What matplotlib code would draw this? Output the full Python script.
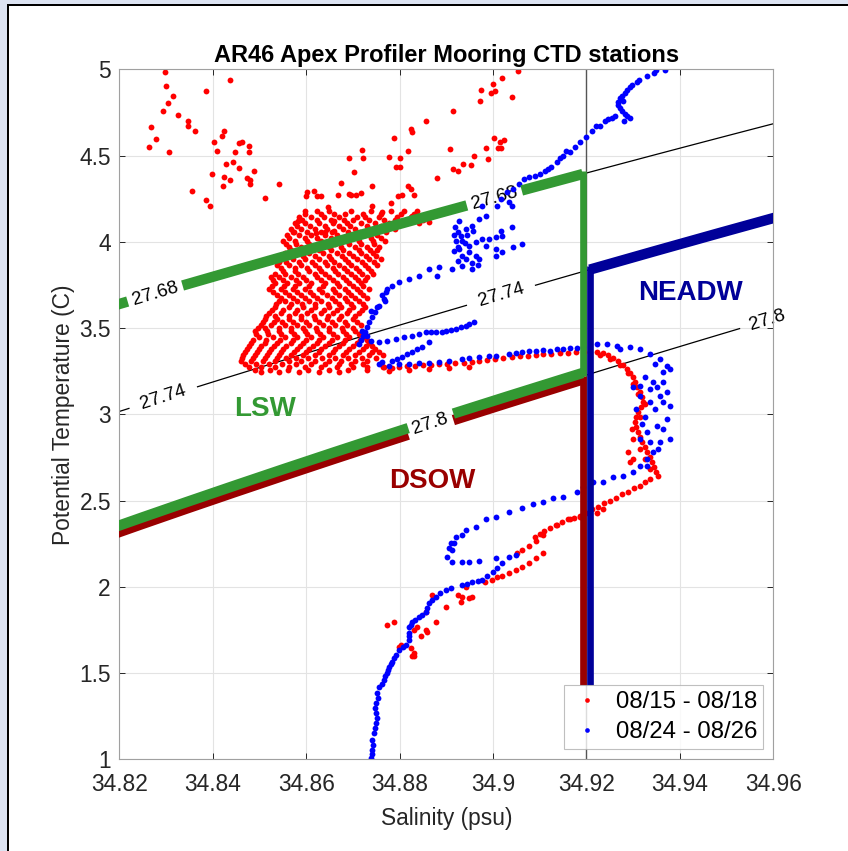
import numpy as np
import matplotlib.pyplot as plt
from matplotlib.patches import Rectangle

plt.rcParams['font.family'] = ['Liberation Sans', 'DejaVu Sans']

# ---------------- CTD profile data: (salinity psu, potential temperature C) ----------------
# casts 08/15 - 08/18
red_upper = [
    (34.8298, 4.987), (34.8301, 4.901), (34.8314, 4.843), (34.8305, 4.802), (34.8294, 4.756),
    (34.8325, 4.733), (34.8267, 4.663), (34.8279, 4.593), (34.8264, 4.552), (34.8307, 4.523),
    (34.8346, 4.698), (34.8348, 4.669), (34.8361, 4.645), (34.8385, 4.872), (34.8438, 4.936),
    (34.8355, 4.297), (34.8385, 4.244), (34.8395, 4.209), (34.8402, 4.581), (34.8410, 4.529),
    (34.8419, 4.616), (34.8425, 4.645), (34.8428, 4.448), (34.8398, 4.395), (34.8423, 4.326),
    (34.8425, 4.378), (34.8436, 4.360), (34.8443, 4.465), (34.8447, 4.523), (34.8456, 4.430),
    (34.8456, 4.570), (34.8462, 4.576), (34.8477, 4.558), (34.8477, 4.523), (34.8473, 4.372),
    (34.8479, 4.360), (34.8479, 4.337), (34.8488, 4.413), (34.8511, 4.256), (34.8541, 4.337),
    (34.8582, 4.122), (34.8574, 4.058), (34.8597, 4.180), (34.8599, 4.267), (34.8602, 4.291),
    (34.8617, 4.297), (34.8623, 4.267), (34.8632, 4.267), (34.8647, 4.203), (34.8660, 4.122),
    (34.8660, 4.064), (34.8640, 4.058), (34.8621, 4.052), (34.8668, 4.273), (34.8675, 4.343),
    (34.8692, 4.488), (34.8692, 4.279),
    (34.9054, 4.990), (34.9020, 4.948), (34.9001, 4.915), (34.9005, 4.876), (34.8996, 4.865),
    (34.8975, 4.880), (34.9041, 4.841), (34.8973, 4.814), (34.8915, 4.756), (34.8857, 4.698),
    (34.8824, 4.651), (34.8827, 4.634), (34.8788, 4.599), (34.8720, 4.531), (34.8722, 4.483),
    (34.8702, 4.403), (34.8742, 4.322), (34.8695, 4.273), (34.8706, 4.269), (34.8717, 4.281),
    (34.8778, 4.492), (34.8800, 4.488), (34.8792, 4.434), (34.8801, 4.434), (34.8818, 4.525),
    (34.8818, 4.324), (34.8824, 4.304), (34.8831, 4.273), (34.8806, 4.269), (34.8796, 4.266),
    (34.8781, 4.227), (34.8880, 4.372), (34.8907, 4.539), (34.8959, 4.498), (34.8935, 4.452),
    (34.8953, 4.444), (34.8914, 4.424), (34.8924, 4.409), (34.8985, 4.541), (34.9002, 4.599),
    (34.9014, 4.580), (34.9010, 4.541), (34.9018, 4.541), (34.9023, 4.591), (34.8989, 4.477),
    (34.8741, 4.209), (34.8763, 4.174), (34.8827, 4.151), (34.8864, 4.116), (34.8806, 4.116),
    (34.8842, 4.134),
]

# dense LSW cloud, one row per temperature level
red_cloud_rows = [
    (4.180, [34.8623, 34.8649, 34.8696, 34.8739, 34.8782, 34.8810, 34.8838]),
    (4.162, [34.8597, 34.8632, 34.8660, 34.8683, 34.8722, 34.8760, 34.8802, 34.8830]),
    (4.145, [34.8584, 34.8610, 34.8638, 34.8670, 34.8709, 34.8726, 34.8756, 34.8795, 34.8825, 34.8859]),
    (4.128, [34.8591, 34.8623, 34.8653, 34.8681, 34.8700, 34.8735, 34.8767, 34.8790, 34.8820, 34.8850]),
    (4.110, [34.8576, 34.8597, 34.8627, 34.8657, 34.8687, 34.8717, 34.8748, 34.8778, 34.8808, 34.8842]),
    (4.093, [34.8580, 34.8608, 34.8640, 34.8670, 34.8694, 34.8730, 34.8760, 34.8784]),
    (4.075, [34.8567, 34.8589, 34.8619, 34.8644, 34.8679, 34.8705, 34.8735, 34.8765, 34.8790]),
    (4.058, [34.8572, 34.8602, 34.8632, 34.8655, 34.8690, 34.8715, 34.8747, 34.8771]),
    (4.040, [34.8559, 34.8584, 34.8610, 34.8640, 34.8666, 34.8696, 34.8726, 34.8752]),
    (4.023, [34.8563, 34.8597, 34.8623, 34.8653, 34.8679, 34.8709, 34.8739, 34.8760]),
    (4.006, [34.8550, 34.8576, 34.8602, 34.8632, 34.8657, 34.8687, 34.8713, 34.8743, 34.8769]),
    (3.989, [34.8557, 34.8578, 34.8606, 34.8636, 34.8662, 34.8692, 34.8717, 34.8745]),
    (3.971, [34.8563, 34.8589, 34.8619, 34.8649, 34.8675, 34.8705, 34.8730, 34.8756]),
    (3.954, [34.8567, 34.8593, 34.8627, 34.8653, 34.8679, 34.8713, 34.8737, 34.8752]),
    (3.936, [34.8554, 34.8580, 34.8606, 34.8636, 34.8666, 34.8692, 34.8717, 34.8743]),
    (3.919, [34.8548, 34.8567, 34.8593, 34.8619, 34.8649, 34.8677, 34.8700, 34.8728, 34.8750]),
    (3.901, [34.8546, 34.8571, 34.8597, 34.8627, 34.8653, 34.8683, 34.8709, 34.8735, 34.8760]),
    (3.884, [34.8541, 34.8557, 34.8584, 34.8612, 34.8640, 34.8660, 34.8690, 34.8720, 34.8745]),
    (3.866, [34.8537, 34.8563, 34.8589, 34.8619, 34.8644, 34.8670, 34.8696, 34.8726, 34.8752]),
    (3.849, [34.8546, 34.8576, 34.8602, 34.8627, 34.8657, 34.8681, 34.8707, 34.8733]),
    (3.831, [34.8550, 34.8576, 34.8606, 34.8632, 34.8662, 34.8687, 34.8713, 34.8739]),
    (3.814, [34.8533, 34.8554, 34.8582, 34.8619, 34.8640, 34.8668, 34.8696, 34.8720, 34.8743]),
    (3.797, [34.8524, 34.8541, 34.8567, 34.8593, 34.8623, 34.8649, 34.8679, 34.8705, 34.8730]),
    (3.780, [34.8529, 34.8550, 34.8578, 34.8600, 34.8632, 34.8657, 34.8685, 34.8711, 34.8726]),
    (3.762, [34.8533, 34.8559, 34.8584, 34.8610, 34.8640, 34.8666, 34.8692, 34.8717]),
    (3.745, [34.8526, 34.8552, 34.8576, 34.8606, 34.8636, 34.8670, 34.8700, 34.8722]),
    (3.727, [34.8520, 34.8546, 34.8571, 34.8597, 34.8627, 34.8657, 34.8683, 34.8709, 34.8735]),
    (3.710, [34.8529, 34.8555, 34.8580, 34.8608, 34.8634, 34.8662, 34.8689, 34.8715]),
    (3.692, [34.8537, 34.8563, 34.8589, 34.8614, 34.8644, 34.8670, 34.8696, 34.8722]),
    (3.675, [34.8546, 34.8572, 34.8597, 34.8623, 34.8655, 34.8683, 34.8705, 34.8730]),
    (3.657, [34.8541, 34.8554, 34.8580, 34.8606, 34.8632, 34.8662, 34.8687, 34.8713]),
    (3.640, [34.8535, 34.8567, 34.8591, 34.8619, 34.8647, 34.8670, 34.8696, 34.8722]),
    (3.622, [34.8533, 34.8563, 34.8593, 34.8619, 34.8649, 34.8675, 34.8700, 34.8726]),
    (3.605, [34.8526, 34.8550, 34.8580, 34.8610, 34.8638, 34.8666, 34.8692, 34.8719]),
    (3.587, [34.8520, 34.8546, 34.8576, 34.8602, 34.8632, 34.8657, 34.8687, 34.8713]),
    (3.570, [34.8515, 34.8533, 34.8563, 34.8589, 34.8617, 34.8647, 34.8675, 34.8705]),
    (3.552, [34.8511, 34.8537, 34.8563, 34.8589, 34.8619, 34.8644, 34.8670, 34.8700]),
    (3.535, [34.8507, 34.8531, 34.8548, 34.8572, 34.8600, 34.8627, 34.8655, 34.8683, 34.8709]),
    (3.517, [34.8503, 34.8524, 34.8554, 34.8580, 34.8606, 34.8636, 34.8662, 34.8687, 34.8717]),
    (3.500, [34.8496, 34.8511, 34.8541, 34.8567, 34.8593, 34.8621, 34.8649, 34.8677, 34.8700]),
    (3.483, [34.8490, 34.8516, 34.8541, 34.8567, 34.8597, 34.8623, 34.8649, 34.8679, 34.8705]),
    (3.466, [34.8492, 34.8518, 34.8546, 34.8574, 34.8602, 34.8630, 34.8657, 34.8685, 34.8713]),
    (3.448, [34.8498, 34.8529, 34.8554, 34.8580, 34.8610, 34.8636, 34.8666, 34.8692, 34.8722]),
    (3.431, [34.8486, 34.8514, 34.8544, 34.8572, 34.8600, 34.8627, 34.8655, 34.8683, 34.8715, 34.8730]),
    (3.413, [34.8481, 34.8511, 34.8537, 34.8567, 34.8593, 34.8623, 34.8649, 34.8679, 34.8709, 34.8735]),
    (3.396, [34.8477, 34.8503, 34.8531, 34.8557, 34.8587, 34.8614, 34.8640, 34.8670, 34.8700, 34.8728, 34.8741]),
    (3.378, [34.8473, 34.8498, 34.8524, 34.8550, 34.8580, 34.8606, 34.8632, 34.8662, 34.8692, 34.8722, 34.8748]),
    (3.361, [34.8468, 34.8494, 34.8520, 34.8546, 34.8574, 34.8600, 34.8627, 34.8657, 34.8685, 34.8713, 34.8741, 34.8756]),
    (3.343, [34.8464, 34.8490, 34.8516, 34.8541, 34.8567, 34.8593, 34.8619, 34.8649, 34.8679, 34.8705, 34.8735, 34.8765]),
    (3.326, [34.8462, 34.8486, 34.8511, 34.8537, 34.8556, 34.8578, 34.8604, 34.8634, 34.8662, 34.8690, 34.8720, 34.8750]),
    (3.308, [34.8460, 34.8481, 34.8507, 34.8533, 34.8563, 34.8589, 34.8619, 34.8649, 34.8675, 34.8705, 34.8730]),
    (3.291, [34.8470, 34.8492, 34.8520, 34.8548, 34.8578, 34.8610, 34.8640, 34.8670, 34.8696, 34.8722, 34.8760]),
    (3.273, [34.8477, 34.8503, 34.8533, 34.8563, 34.8597, 34.8632, 34.8666, 34.8700, 34.8730, 34.8765]),
    (3.258, [34.8490, 34.8522, 34.8561, 34.8604, 34.8648, 34.8690, 34.8730]),
    (3.244, [34.8503, 34.8541, 34.8584, 34.8627, 34.8670]),
]

red_tongue = [
    (34.8767, 3.273), (34.8784, 3.267), (34.8799, 3.273), (34.8816, 3.279), (34.8833, 3.279),
    (34.8851, 3.285), (34.8868, 3.285), (34.8885, 3.291), (34.8902, 3.291), (34.8919, 3.297),
    (34.8937, 3.297), (34.8954, 3.302), (34.8971, 3.308), (34.8988, 3.314), (34.9005, 3.320),
    (34.9022, 3.326), (34.9040, 3.331), (34.9057, 3.337), (34.9074, 3.337), (34.9091, 3.343),
    (34.9108, 3.349), (34.9125, 3.349), (34.9143, 3.355), (34.9160, 3.355), (34.9177, 3.360),
    (34.9194, 3.360), (34.8778, 3.250), (34.8821, 3.256), (34.8864, 3.262), (34.8906, 3.267),
    (34.8949, 3.273),
]

red_loop = [
    (34.9222, 3.360), (34.9235, 3.355), (34.9246, 3.343), (34.9256, 3.326), (34.9267, 3.308),
    (34.9278, 3.285), (34.9286, 3.262), (34.9293, 3.238), (34.9299, 3.215), (34.9304, 3.186),
    (34.9308, 3.157), (34.9314, 3.128), (34.9319, 3.099), (34.9321, 3.070), (34.9317, 3.041),
    (34.9310, 3.012), (34.9306, 2.983), (34.9304, 2.953), (34.9306, 2.924), (34.9310, 2.895),
    (34.9314, 2.866), (34.9319, 2.837), (34.9325, 2.808), (34.9329, 2.779), (34.9336, 2.750),
    (34.9340, 2.721), (34.9344, 2.692), (34.9349, 2.663), (34.9353, 2.645), (34.9336, 2.622),
    (34.9325, 2.605), (34.9314, 2.587), (34.9301, 2.570), (34.9289, 2.552), (34.9276, 2.535),
    (34.9263, 2.517), (34.9250, 2.500), (34.9237, 2.483), (34.9224, 2.465), (34.9211, 2.448),
    (34.9198, 2.430), (34.9186, 2.413), (34.9173, 2.401), (34.9160, 2.390), (34.9147, 2.378),
    (34.9134, 2.360), (34.9121, 2.343), (34.9110, 2.326), (34.9100, 2.308), (34.9089, 2.291),
    (34.9228, 3.343), (34.9250, 3.320), (34.9271, 3.285), (34.9289, 3.238), (34.9299, 3.174),
    (34.9310, 3.116), (34.9325, 3.058), (34.9314, 2.983), (34.9297, 2.913), (34.9299, 2.855),
    (34.9314, 2.797), (34.9325, 2.738), (34.9336, 2.680), (34.9289, 2.779), (34.9299, 2.738),
    (34.9293, 2.721),
]

red_deep = [
    (34.9106, 2.302), (34.9093, 2.267), (34.9078, 2.238), (34.9063, 2.215), (34.9052, 2.198),
    (34.9106, 2.198), (34.9093, 2.169), (34.9078, 2.140), (34.9063, 2.116), (34.9050, 2.099),
    (34.9035, 2.081), (34.9020, 2.064), (34.9009, 2.058), (34.8997, 2.041), (34.8982, 2.029),
    (34.8943, 2.000), (34.8924, 1.953), (34.8934, 1.942), (34.8949, 1.936), (34.8956, 1.942),
    (34.8932, 1.913), (34.8900, 1.884), (34.8870, 1.953), (34.8857, 1.855), (34.8879, 1.797),
    (34.8788, 1.797), (34.8773, 1.779), (34.8838, 1.767), (34.8831, 1.750), (34.8857, 1.750),
    (34.8859, 1.738), (34.8846, 1.715), (34.8803, 1.663), (34.8799, 1.651), (34.8825, 1.645),
    (34.8831, 1.616), (34.8831, 1.599), (34.8827, 1.599), (34.9186, 2.407), (34.9164, 2.390),
    (34.9136, 2.360), (34.9235, 2.448), (34.9222, 2.430),
]

# casts 08/24 - 08/26
blue_upper = [
    (34.9368, 4.994), (34.9349, 4.998), (34.9344, 4.977), (34.9329, 4.959), (34.9312, 4.936),
    (34.9308, 4.924), (34.9297, 4.907), (34.9293, 4.895), (34.9286, 4.878), (34.9282, 4.860),
    (34.9276, 4.843), (34.9271, 4.831), (34.9267, 4.808), (34.9267, 4.791), (34.9271, 4.773),
    (34.9276, 4.756), (34.9282, 4.738), (34.9286, 4.727), (34.9261, 4.727), (34.9246, 4.709),
    (34.9228, 4.674), (34.9211, 4.640), (34.9198, 4.610), (34.9186, 4.581), (34.9164, 4.523),
    (34.9149, 4.500), (34.9136, 4.465), (34.9125, 4.436), (34.9112, 4.413), (34.9100, 4.395),
    (34.9089, 4.384), (34.9078, 4.378), (34.9067, 4.366), (34.9055, 4.337), (34.9042, 4.308),
    (34.9029, 4.291), (34.9018, 4.250), (34.9009, 4.209), (34.8977, 4.209), (34.9035, 4.233),
    (34.9040, 4.209), (34.8986, 4.151), (34.8971, 4.134), (34.8956, 4.093), (34.8943, 4.076),
    (34.8924, 4.058), (34.8932, 4.035), (34.8934, 4.006), (34.8921, 4.006), (34.8949, 3.977),
    (34.8964, 4.000), (34.8977, 4.017), (34.8992, 4.017), (34.9007, 4.029), (34.9020, 4.035),
    (34.9040, 4.087), (34.9018, 4.064), (34.8986, 3.977), (34.9007, 3.959), (34.8949, 3.942),
    (34.8964, 3.919), (34.8943, 3.901), (34.8934, 3.919), (34.8971, 3.901), (34.9007, 3.919),
    (34.9020, 3.942), (34.9042, 3.971), (34.9063, 3.988), (34.8934, 3.860), (34.8956, 3.843),
    (34.8913, 3.843), (34.8885, 3.855), (34.8863, 3.843), (34.8842, 3.802), (34.8821, 3.785),
    (34.8799, 3.767), (34.8784, 3.744), (34.8773, 3.727), (34.8771, 3.709), (34.8767, 3.669),
    (34.8756, 3.628), (34.8881, 3.802), (34.8928, 4.122), (34.8919, 4.087), (34.8917, 4.041),
    (34.8924, 3.971), (34.8917, 3.948), (34.8924, 3.890), (34.8945, 4.041), (34.8958, 4.064),
    (34.8941, 3.994), (34.8954, 3.878), (34.8928, 3.959), (34.8967, 3.866),
    (34.9254, 4.715), (34.9239, 4.703), (34.9220, 4.669), (34.9175, 4.552), (34.9156, 4.529),
    (34.9143, 4.483), (34.9117, 4.424), (34.9278, 4.814), (34.9293, 4.715), (34.9280, 4.703),
]

blue_mid = [
    (34.8763, 3.692), (34.8752, 3.622), (34.8748, 3.593), (34.8741, 3.564), (34.8735, 3.535),
    (34.8730, 3.506), (34.8726, 3.477), (34.8722, 3.453), (34.8717, 3.430), (34.8713, 3.407),
    (34.8739, 3.599), (34.8769, 3.657),
    (34.8960, 3.535), (34.8943, 3.512), (34.8921, 3.494), (34.8900, 3.483), (34.8879, 3.477),
    (34.8857, 3.477), (34.8827, 3.453), (34.8793, 3.436), (34.8773, 3.424), (34.8756, 3.419),
    (34.8739, 3.424), (34.8730, 3.453), (34.8720, 3.483), (34.8949, 3.523), (34.8932, 3.506),
    (34.8911, 3.488), (34.8890, 3.477), (34.8868, 3.477), (34.8842, 3.465), (34.8810, 3.448),
    (34.8863, 3.419), (34.8848, 3.390), (34.8827, 3.360), (34.8806, 3.331), (34.8784, 3.308),
    (34.8763, 3.302), (34.8756, 3.291), (34.8778, 3.279), (34.8799, 3.291), (34.8838, 3.378),
    (34.8816, 3.349), (34.8795, 3.320),
]

blue_tongue = [
    (34.8885, 3.302), (34.8906, 3.308), (34.8934, 3.320), (34.8949, 3.326), (34.8971, 3.331),
    (34.8992, 3.337), (34.9007, 3.337), (34.9035, 3.349), (34.9050, 3.355), (34.9063, 3.360),
    (34.9078, 3.366), (34.9093, 3.366), (34.9106, 3.372), (34.9121, 3.366), (34.9136, 3.378),
    (34.9149, 3.378), (34.9164, 3.384), (34.9179, 3.384), (34.9192, 3.390), (34.8821, 3.291),
    (34.8842, 3.297), (34.8863, 3.297),
]

blue_loop = [
    (34.9222, 3.407), (34.9244, 3.407), (34.9265, 3.395), (34.9293, 3.390), (34.9314, 3.378),
    (34.9336, 3.349), (34.9357, 3.320), (34.9372, 3.279), (34.9364, 3.244), (34.9342, 3.186),
    (34.9364, 3.186), (34.9379, 3.262), (34.9372, 3.128), (34.9357, 3.105), (34.9336, 3.145),
    (34.9314, 3.163), (34.9299, 3.157), (34.9314, 3.105), (34.9336, 3.070), (34.9364, 3.070),
    (34.9379, 3.047), (34.9372, 2.971), (34.9351, 2.930), (34.9329, 2.895), (34.9314, 2.855),
    (34.9336, 2.837), (34.9357, 2.837), (34.9379, 2.855), (34.9342, 2.779), (34.9329, 2.738),
    (34.9314, 2.698), (34.9329, 2.698), (34.9299, 2.663), (34.9278, 2.640), (34.9256, 2.634),
    (34.9235, 2.610), (34.9213, 2.605), (34.9192, 2.576), (34.9179, 2.547), (34.9149, 2.523),
    (34.9128, 2.517), (34.9106, 2.494), (34.9085, 2.477), (34.9063, 2.459), (34.9035, 2.436),
    (34.9007, 2.407), (34.8986, 2.390), (34.8964, 2.349), (34.8943, 2.331), (34.8921, 2.291),
    (34.8911, 2.256), (34.8906, 2.227), (34.9271, 3.378), (34.9347, 3.291), (34.9325, 3.215),
    (34.9351, 3.157), (34.9347, 3.029), (34.9325, 2.983), (34.9364, 2.913), (34.9353, 2.797),
    (34.9306, 3.029), (34.9319, 2.942),
]

blue_deep = [
    (34.8934, 2.302), (34.8917, 2.256), (34.8913, 2.215), (34.8902, 2.174), (34.8913, 2.145),
    (34.8934, 2.145), (34.8949, 2.145), (34.8971, 2.151), (34.9007, 2.169), (34.9035, 2.174),
    (34.9050, 2.186), (34.9020, 2.140), (34.8999, 2.087), (34.8977, 2.041), (34.8956, 2.029),
    (34.8934, 2.012), (34.8900, 1.983), (34.8879, 1.942), (34.8863, 1.907), (34.8857, 1.855),
    (34.8842, 1.826), (34.8827, 1.797), (34.8821, 1.767), (34.8821, 1.733), (34.8821, 1.692),
    (34.8814, 1.663), (34.8799, 1.634), (34.8793, 1.605), (34.8784, 1.564), (34.8778, 1.535),
    (34.8773, 1.500), (34.8767, 1.459), (34.8756, 1.419), (34.8752, 1.384), (34.8750, 1.326),
    (34.8750, 1.267), (34.8750, 1.209), (34.8745, 1.151), (34.8741, 1.110), (34.8741, 1.052),
    (34.8739, 1.006), (34.8754, 1.355), (34.8748, 1.297), (34.8752, 1.238), (34.8748, 1.180),
    (34.8743, 1.081), (34.8741, 1.029), (34.8763, 1.436), (34.8769, 1.483), (34.8775, 1.517),
    (34.8782, 1.552), (34.8788, 1.587), (34.8808, 1.651), (34.8821, 1.715), (34.8825, 1.779),
    (34.8833, 1.808), (34.8848, 1.837), (34.8859, 1.878), (34.8870, 1.924), (34.8887, 1.965),
    (34.8911, 1.994), (34.8945, 2.017), (34.8967, 2.035), (34.8988, 2.064), (34.9009, 2.110),
]

legend_labels = ['08/15 - 08/18', '08/24 - 08/26']

# water mass boundaries
sigma_levels = [27.68, 27.74, 27.8]
s_split = 34.92          # salinity separating LSW/DSOW from NEADW
t_floor = 1.43           # lower end of the vertical boundaries

# where the isopycnal labels sit (salinity); the thick lines are broken there
label_spots = [(27.68, 34.8277), (27.68, 34.9003), (27.74, 34.8294),
               (27.74, 34.9017), (27.8, 34.8866), (27.8, 34.9588)]


def sigma0(S, T):
    """UNESCO EOS-80 surface density anomaly (kg/m^3)."""
    rw = (999.842594 + 6.793952e-2 * T - 9.095290e-3 * T**2 + 1.001685e-4 * T**3
          - 1.120083e-6 * T**4 + 6.536332e-9 * T**5)
    a = 0.824493 - 4.0899e-3 * T + 7.6438e-5 * T**2 - 8.2467e-7 * T**3 + 5.3875e-9 * T**4
    b = -5.72466e-3 + 1.0227e-4 * T - 1.6546e-6 * T**2
    return rw + a * S + b * S**1.5 + 4.8314e-4 * S**2 - 1000.0


def isopycnal_theta(S, level):
    # bisection: potential temperature on a given sigma0 surface
    S = np.asarray(S, dtype=float)
    lo = np.full_like(S, -2.0)
    hi = np.full_like(S, 12.0)
    for _ in range(60):
        mid = 0.5 * (lo + hi)
        denser = sigma0(S, mid) > level
        lo = np.where(denser, mid, lo)
        hi = np.where(denser, hi, mid)
    return 0.5 * (lo + hi)


def unzip(pairs):
    arr = np.array(pairs)
    return arr[:, 0], arr[:, 1]


def with_gaps(S, T, level):
    T = T.copy()
    for lev, s0 in label_spots:
        if lev == level:
            half = 0.0047 if lev == 27.8 else 0.0057
            T[np.abs(S - s0) < half] = np.nan
    return T


red_parts = [unzip(red_upper), unzip(red_tongue), unzip(red_loop), unzip(red_deep)]
red_parts += [(np.array(row), np.full(len(row), t)) for t, row in red_cloud_rows]
red_S = np.concatenate([p[0] for p in red_parts])
red_T = np.concatenate([p[1] for p in red_parts])

blue_parts = [unzip(blue_upper), unzip(blue_mid), unzip(blue_tongue), unzip(blue_loop), unzip(blue_deep)]
blue_S = np.concatenate([p[0] for p in blue_parts])
blue_T = np.concatenate([p[1] for p in blue_parts])

fig = plt.figure(figsize=(8.48, 8.51), dpi=100)
fig.patch.set_facecolor('#dce3f2')
fig.add_artist(Rectangle((7 / 848, -0.1), 1.2, (851 - 4) / 851 + 0.1,
                         transform=fig.transFigure, facecolor='black', edgecolor='none', zorder=-5))
fig.add_artist(Rectangle((9.3 / 848, -0.1), 1.2, (851 - 6.5) / 851 + 0.1,
                         transform=fig.transFigure, facecolor='white', edgecolor='none', zorder=-4))

ax = fig.add_axes([0.1407, 0.1078, 0.7712, 0.8108])

# density contours
Sg, Tg = np.meshgrid(np.linspace(34.80, 34.98, 300), np.linspace(0.5, 5.5, 300))
cs = ax.contour(Sg, Tg, sigma0(Sg, Tg), levels=sigma_levels, colors='k', linewidths=0.9, zorder=1.6)
spots = [(s, float(isopycnal_theta(np.array([s]), lev)[0])) for lev, s in label_spots]
labels = ax.clabel(cs, fmt=lambda v: f'{v:g}', manual=spots, inline=True,
                   inline_spacing=4, fontsize=13.5, zorder=1.7)
for lab in labels:
    lab.set_clip_on(False)

ax.axvline(s_split, color='#555555', lw=1.0, zorder=1.8)

# profiles
ax.plot(red_S, red_T, 'o', color='#ff0000', ms=4.2, mew=0, zorder=2, label=legend_labels[0])
ax.plot(blue_S, blue_T, 'o', color='#0000ff', ms=4.2, mew=0, zorder=2.1, label=legend_labels[1])

# water-mass boundaries
green = '#339933'
dred = '#990000'
navy = '#000099'
lw_slope, lw_vert = 7.5, 4.8
off = 0.019
s_v = 34.9192
s_b = 34.9207

S_line = np.linspace(34.815, s_v, 400)
t_top = isopycnal_theta(S_line, 27.68)
t_bot = isopycnal_theta(S_line, 27.8)
t_v68 = float(isopycnal_theta(np.array([s_v]), 27.68)[0])
t_v80 = float(isopycnal_theta(np.array([s_v]), 27.8)[0])

# DSOW (below 27.8, fresher than s_split)
ax.plot(S_line, with_gaps(S_line, t_bot - off, 27.8), color=dred, lw=lw_slope,
        solid_capstyle='butt', zorder=3)
ax.plot([s_v, s_v], [t_v80 - off + 0.02, t_floor], color=dred, lw=lw_vert,
        solid_capstyle='butt', zorder=3)

# LSW (27.68 - 27.8)
ax.plot(S_line, with_gaps(S_line, t_top, 27.68), color=green, lw=lw_slope,
        solid_capstyle='butt', zorder=3.1)
ax.plot(S_line, with_gaps(S_line, t_bot + off, 27.8), color=green, lw=lw_slope,
        solid_capstyle='butt', zorder=3.1)
ax.plot([s_v, s_v], [t_v68 + 0.02, t_v80 + off - 0.02], color=green, lw=lw_vert,
        solid_capstyle='butt', zorder=3.1)

# NEADW (denser than 27.74, saltier than s_split)
S_ne = np.linspace(s_b, 34.965, 200)
t_ne = isopycnal_theta(S_ne, 27.74)
ax.plot(S_ne, t_ne, color=navy, lw=lw_slope, solid_capstyle='butt', zorder=3.2)
ax.plot([s_b, s_b], [t_floor, t_ne[0] + 0.02], color=navy, lw=lw_vert,
        solid_capstyle='butt', zorder=3.2)

ax.text(34.8511, 3.029, 'LSW', color=green, fontsize=20, fontweight='bold',
        ha='center', va='center', zorder=4)
ax.text(34.8871, 2.616, 'DSOW', color=dred, fontsize=20, fontweight='bold',
        ha='center', va='center', zorder=4)
ax.text(34.9422, 3.703, 'NEADW', color=navy, fontsize=20, fontweight='bold',
        ha='center', va='center', zorder=4)

ax.set_xlim(34.82, 34.96)
ax.set_ylim(1, 5)
ax.set_xticks(np.arange(34.82, 34.9601, 0.02))
ax.set_xticklabels(['34.82', '34.84', '34.86', '34.88', '34.9', '34.92', '34.94', '34.96'])
ax.set_yticks(np.arange(1, 5.01, 0.5))
ax.set_yticklabels(['1', '1.5', '2', '2.5', '3', '3.5', '4', '4.5', '5'])
ax.grid(True, color='#e3e3e3', lw=0.8)
ax.set_axisbelow(True)
ax.tick_params(direction='in', length=4.5, width=0.7, color='#262626', labelcolor='#262626',
               labelsize=16.4, top=True, right=True)
ax.tick_params(axis='x', pad=10)
ax.tick_params(axis='y', pad=6)
for sp in ax.spines.values():
    sp.set_color('#a0a0a0')
    sp.set_linewidth(0.8)

ax.set_title('AR46 Apex Profiler Mooring CTD stations', fontsize=17, fontweight='bold', pad=5)
ax.set_xlabel('Salinity (psu)', fontsize=16.4, color='#262626', labelpad=8)
ax.set_ylabel('Potential Temperature (C)', fontsize=16.4, color='#262626', labelpad=3)

leg = ax.legend(loc='lower right', fontsize=17.3, markerscale=0.8, frameon=True, fancybox=False,
                edgecolor='#b0b0b0', borderpad=0.25, handlelength=1.4, handletextpad=0.5,
                labelspacing=0.32, borderaxespad=0.42)
leg.get_frame().set_linewidth(0.8)
leg.set_zorder(5)

fig.savefig('out.png', dpi=100, facecolor=fig.get_facecolor())
